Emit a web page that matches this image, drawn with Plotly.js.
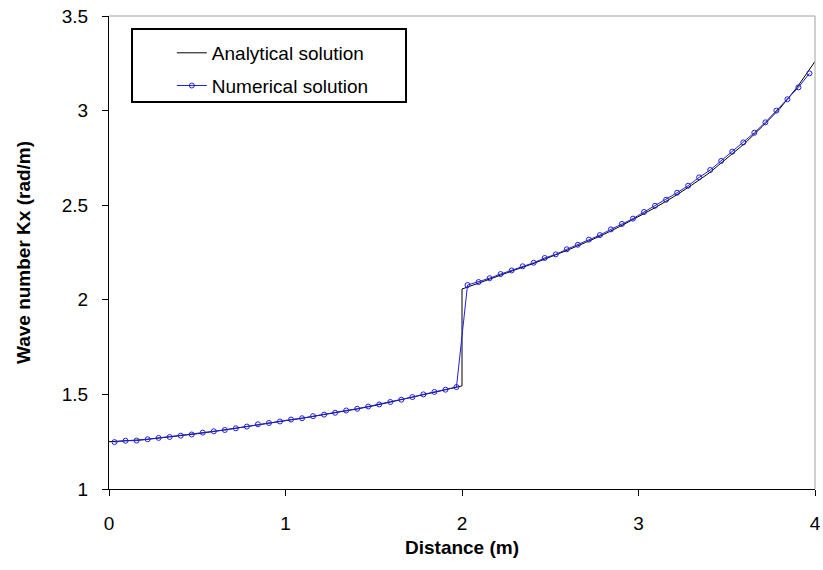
<!DOCTYPE html>
<html>
<head>
<meta charset="utf-8">
<script src="https://cdn.plot.ly/plotly-3.0.1.min.js"></script>
<style>html,body{margin:0;padding:0;background:#fff}#chart{width:823px;height:570px}</style>
</head>
<body>
<div id="chart"></div>
<script>
// Analytical solution (black line)
const analyticalX = [0,0.1,0.2,0.3,0.4,0.5,0.6,0.7,0.8,0.9,1.0,1.1,1.2,1.3,1.4,1.5,1.6,1.7,1.8,1.9,2.0,
  2.0,2.1,2.2,2.3,2.4,2.5,2.6,2.7,2.8,2.9,3.0,3.1,3.2,3.3,3.4,3.5,3.6,3.7,3.8,3.9,4.0];
const analyticalY = [1.250,1.255,1.261,1.271,1.280,1.292,1.305,1.318,1.333,1.347,1.361,1.375,1.390,1.405,1.422,1.440,1.460,1.481,1.502,1.523,1.545,
  2.057,2.090,2.125,2.158,2.190,2.225,2.263,2.303,2.344,2.390,2.438,2.490,2.545,2.605,2.670,2.745,2.825,2.915,3.010,3.125,3.260];

// Numerical solution (blue line with open circles), cell centres
const numericalX = [0.03125,0.09375,0.15625,0.21875,0.28125,0.34375,0.40625,0.46875,0.53125,0.59375,
  0.65625,0.71875,0.78125,0.84375,0.90625,0.96875,1.03125,1.09375,1.15625,1.21875,
  1.28125,1.34375,1.40625,1.46875,1.53125,1.59375,1.65625,1.71875,1.78125,1.84375,
  1.90625,1.96875,2.03125,2.09375,2.15625,2.21875,2.28125,2.34375,2.40625,2.46875,
  2.53125,2.59375,2.65625,2.71875,2.78125,2.84375,2.90625,2.96875,3.03125,3.09375,
  3.15625,3.21875,3.28125,3.34375,3.40625,3.46875,3.53125,3.59375,3.65625,3.71875,
  3.78125,3.84375,3.90625,3.96875];
const numericalY = [1.248,1.255,1.256,1.263,1.270,1.275,1.282,1.288,1.298,1.305,
  1.312,1.321,1.330,1.342,1.349,1.357,1.367,1.374,1.385,1.393,
  1.403,1.415,1.424,1.436,1.447,1.460,1.472,1.486,1.500,1.513,
  1.525,1.539,2.078,2.094,2.114,2.136,2.155,2.177,2.196,2.221,
  2.240,2.267,2.291,2.318,2.342,2.372,2.401,2.429,2.464,2.497,
  2.529,2.566,2.603,2.647,2.686,2.734,2.783,2.832,2.883,2.938,
  3.000,3.060,3.123,3.197];

const xTicks = [0,1,2,3,4];
const yTicks = [1,1.5,2,2.5,3,3.5];

const FONT = '"Liberation Sans", Arial, sans-serif';

const traces = [
  {x: analyticalX, y: analyticalY, type: 'scatter', mode: 'lines', name: 'Analytical solution',
   legendgroup: 'a', line: {color: '#000000', width: 1}, cliponaxis: false},
  {x: numericalX, y: numericalY, type: 'scatter', mode: 'lines+markers', name: 'Numerical solution',
   legendgroup: 'n', line: {color: '#1f1fdd', width: 1},
   marker: {symbol: 'circle-open', size: 5, color: '#1f1fdd', line: {width: 1}}}
];

const layout = {
  width: 823, height: 570,
  margin: {l: 109, r: 8, t: 16, b: 81},
  paper_bgcolor: '#fff', plot_bgcolor: '#fff',
  font: {family: FONT, size: 19, color: '#000'},
  showlegend: true,
  legend: {x: 0.089, xanchor: 'left', y: 0.962, yanchor: 'top',
    bgcolor: 'rgba(0,0,0,0)', borderwidth: 0, font: {family: FONT, size: 19, color: '#000'},
    traceorder: 'grouped', tracegroupgap: 5},
  xaxis: {range: [0, 4], tickvals: xTicks, ticktext: xTicks.map(String),
    showgrid: false, zeroline: false, showline: true, linecolor: '#000', linewidth: 1,
    ticks: 'outside', ticklen: 6, tickcolor: '#000', ticklabelstandoff: 11,
    tickfont: {family: FONT, size: 19},
    title: {text: '<b>Distance (m)</b>', font: {family: FONT, size: 19}, standoff: 7}},
  yaxis: {range: [1, 3.5], tickvals: yTicks, ticktext: yTicks.map(String),
    showgrid: false, zeroline: false, showline: true, linecolor: '#000', linewidth: 1,
    ticks: 'outside', ticklen: 6, tickcolor: '#000', ticklabelstandoff: 10,
    tickfont: {family: FONT, size: 19},
    title: {text: '<b>Wave number Kx (rad/m)</b>', font: {family: FONT, size: 19}, standoff: 26}},
  shapes: [
    {type: 'line', xref: 'paper', yref: 'paper', x0: 0, x1: 1, y0: 1, y1: 1, line: {color: '#a0a0a0', width: 1}},
    {type: 'line', xref: 'paper', yref: 'paper', x0: 1, x1: 1, y0: 0, y1: 1, line: {color: '#a0a0a0', width: 1}},
    {type: 'rect', xref: 'paper', yref: 'paper', x0: 0.0326, x1: 0.4207, y0: 0.8182, y1: 0.9725,
     line: {color: '#000', width: 2}, fillcolor: 'rgba(0,0,0,0)'}
  ]
};

Plotly.newPlot('chart', traces, layout, {displayModeBar: false, staticPlot: true});
</script>
</body>
</html>
